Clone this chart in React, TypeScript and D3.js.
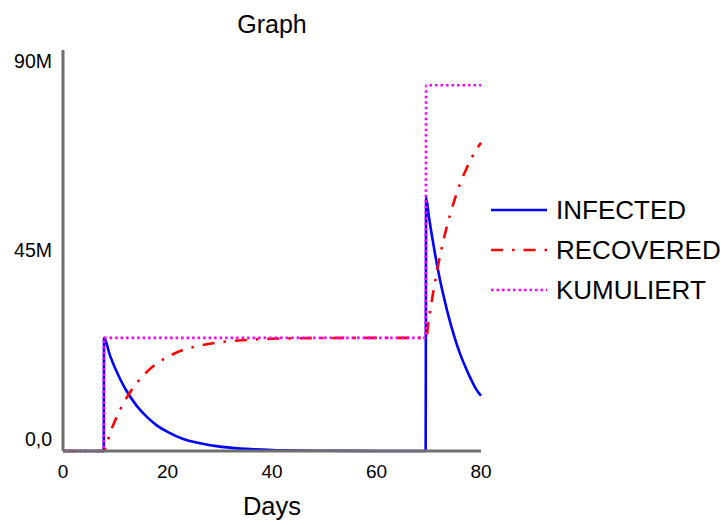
import React, { useEffect, useRef } from 'react';
import * as d3 from 'd3';

// values in millions
const days = [0, 7.8, 7.85, 9, 10, 11, 12, 14, 16, 18, 20, 23, 26, 30, 35, 40, 50, 60, 69.4, 69.5, 70, 71, 72, 73, 74, 75, 76, 77, 78, 79, 80];
const infected = [0, 0, 25.4, 21.4, 18.5, 16.0, 13.8, 10.3, 7.7, 5.7, 4.3, 2.7, 1.8, 0.98, 0.47, 0.22, 0.05, 0.01, 0, 56.8, 52.8, 45.6, 39.3, 34.0, 29.3, 25.3, 21.8, 18.9, 16.3, 14.0, 12.4];
const recovered = [0, 0, 0, 4.0, 6.9, 9.4, 11.6, 15.1, 17.7, 19.7, 21.1, 22.7, 23.6, 24.4, 24.9, 25.2, 25.35, 25.4, 25.4, 25.4, 29.4, 36.6, 42.9, 48.2, 52.7, 56.6, 60.0, 62.8, 65.3, 67.4, 69.2];
const kumuliert = [0, 0, 25.4, 25.4, 25.4, 25.4, 25.4, 25.4, 25.4, 25.4, 25.4, 25.4, 25.4, 25.4, 25.4, 25.4, 25.4, 25.4, 25.4, 82.1, 82.1, 82.1, 82.1, 82.1, 82.1, 82.1, 82.1, 82.1, 82.1, 82.1, 82.1];

const xTicks = [0, 20, 40, 60, 80];
const yTicks = [0, 45, 90];
const yTickLabels = ['0,0', '45M', '90M'];

const seriesNames = ['INFECTED', 'RECOVERED', 'KUMULIERT'];
const seriesValues = [infected, recovered, kumuliert];
const seriesColors = ['#0000ff', '#ff0000', '#ff00ff'];
const seriesDash = ['none', '12,9,2.5,9', '2.5,3'];

const App: React.FC = () => {
  const svgRef = useRef<SVGSVGElement>(null);

  useEffect(() => {
    if (!svgRef.current) return;
    d3.select(svgRef.current).selectAll('*').remove();

    const width = 726;
    const height = 525;
    const left = 63;
    const right = 481;
    const top = 50;
    const bottom = 451;
    const font = 'Arial, "Liberation Sans", sans-serif';

    const svg = d3
      .select(svgRef.current)
      .attr('width', width)
      .attr('height', height);

    const x = d3.scaleLinear().domain([0, 80]).range([left, right]);
    const y = d3.scaleLinear().domain([0, 90]).range([bottom, top]);

    // Title and axis label
    svg.append('text')
      .attr('x', 272)
      .attr('y', 33)
      .attr('text-anchor', 'middle')
      .attr('font-family', font)
      .attr('font-size', 25)
      .text('Graph');

    svg.append('text')
      .attr('x', 272)
      .attr('y', 515)
      .attr('text-anchor', 'middle')
      .attr('font-family', font)
      .attr('font-size', 25.5)
      .text('Days');

    // Lines
    seriesValues.forEach((vals, i) => {
      const line = d3.line<number>()
        .x((_, j) => x(days[j]))
        .y((d) => y(d))
        .curve(d3.curveMonotoneX);

      svg.append('path')
        .datum(vals)
        .attr('d', line)
        .attr('fill', 'none')
        .attr('stroke', seriesColors[i])
        .attr('stroke-width', 2.6)
        .attr('stroke-dasharray', seriesDash[i]);
    });

    // Axes (plain lines, no tick marks)
    svg.append('line')
      .attr('x1', left).attr('x2', left)
      .attr('y1', top).attr('y2', bottom)
      .attr('stroke', '#6f6f6f')
      .attr('stroke-width', 3);

    svg.append('line')
      .attr('x1', left).attr('x2', right)
      .attr('y1', bottom).attr('y2', bottom)
      .attr('stroke', '#6f6f6f')
      .attr('stroke-width', 3);

    svg.selectAll('.xtick')
      .data(xTicks)
      .enter()
      .append('text')
      .attr('class', 'xtick')
      .attr('x', (d) => x(d))
      .attr('y', 478)
      .attr('text-anchor', 'middle')
      .attr('font-family', font)
      .attr('font-size', 19)
      .text((d) => String(d));

    // first and last labels are nudged inside the plot range
    const yOffsets = [-5, 6, 18];
    svg.selectAll('.ytick')
      .data(yTicks)
      .enter()
      .append('text')
      .attr('class', 'ytick')
      .attr('x', 52)
      .attr('y', (d, i) => y(d) + yOffsets[i])
      .attr('text-anchor', 'end')
      .attr('font-family', font)
      .attr('font-size', 19.5)
      .text((_, i) => yTickLabels[i]);

    // Legend
    const legend = svg.append('g');
    seriesNames.forEach((name, i) => {
      const ly = 210 + i * 40;
      legend.append('line')
        .attr('x1', 491).attr('x2', 547)
        .attr('y1', ly).attr('y2', ly)
        .attr('stroke', seriesColors[i])
        .attr('stroke-width', 2.6)
        .attr('stroke-dasharray', seriesDash[i]);
      legend.append('text')
        .attr('x', 556)
        .attr('y', ly + 9)
        .attr('font-family', font)
        .attr('font-size', 26)
        .text(name);
    });
  }, []);

  return (
    <svg
      ref={svgRef}
      style={{ position: 'absolute', left: 0, top: 0, display: 'block' }}
    ></svg>
  );
};

export default App;
